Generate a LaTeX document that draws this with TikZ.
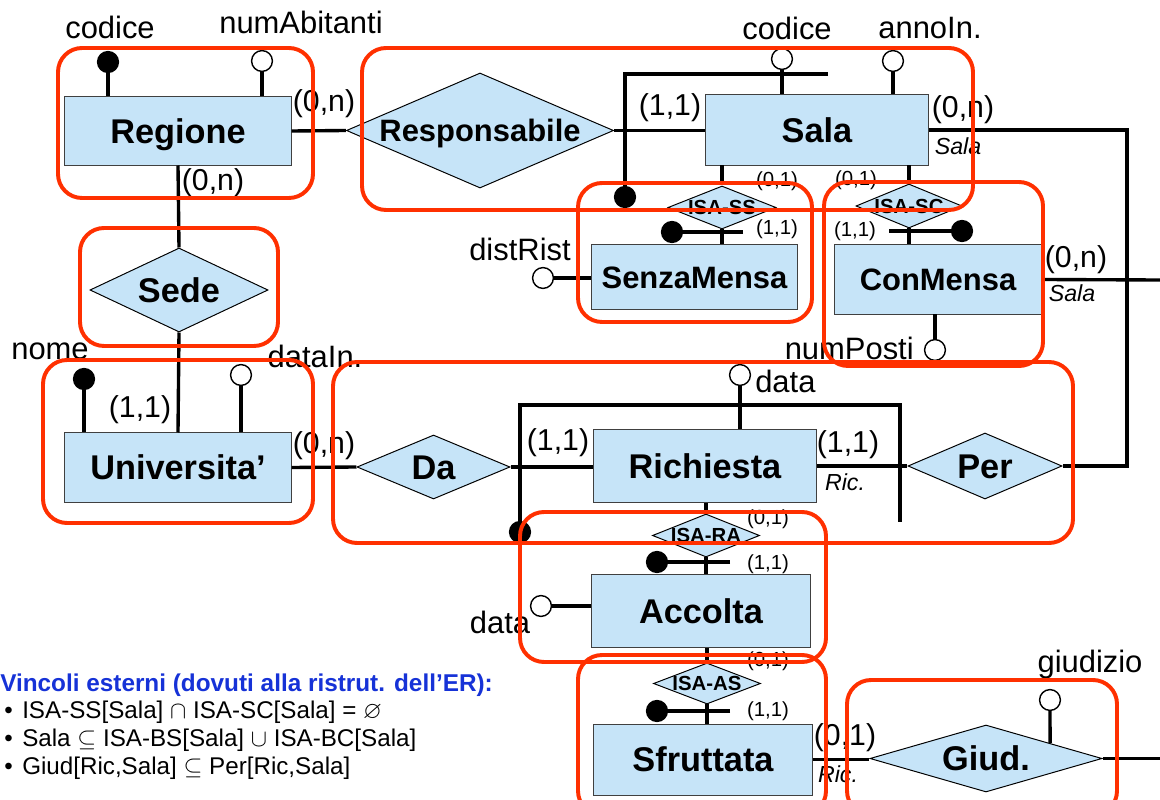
\documentclass[tikz,border=0pt]{standalone}
\usepackage{amssymb}
\usepackage{fontspec}
\setmainfont{Liberation Sans}
\usepackage{tikz}
\usetikzlibrary{shapes.geometric, positioning, calc}

\definecolor{erfill}{RGB}{198,228,248}
\definecolor{hlred}{RGB}{255,48,0}
\definecolor{noteblue}{RGB}{22,50,215}

\begin{document}
\begin{tikzpicture}[
  x=0.025cm, y=-0.025cm,
  ent/.style={rectangle, draw=black!75, line width=0.7pt, fill=erfill, inner sep=0pt, font=\fontsize{24.4}{28}\selectfont\bfseries, text height=17.5pt, text depth=0pt},
  entsm/.style={ent, font=\fontsize{22}{26}\selectfont\bfseries, text height=15.8pt},
  rel/.style={diamond, draw=black, line width=0.7pt, fill=erfill, inner sep=0pt},
  relname/.style={inner sep=0pt, font=\fontsize{24.4}{28}\selectfont\bfseries, text height=17.5pt, text depth=0pt},
  isaname/.style={inner sep=0pt, font=\fontsize{14.5}{17}\selectfont\bfseries, text height=10.4pt, text depth=0pt},
  attr/.style={circle, draw=black, line width=1pt, fill=white, minimum size=0.52cm, inner sep=0pt},
  keyattr/.style={attr, fill=black},
  lbl/.style={inner sep=0pt, font=\fontsize{22}{26}\selectfont},
  card/.style={inner sep=0pt, font=\fontsize{21.5}{25}\selectfont},
  smallcard/.style={inner sep=0pt, font=\fontsize{14.5}{17}\selectfont},
  role/.style={inner sep=0pt, font=\fontsize{16.5}{19}\selectfont\itshape},
  link/.style={line width=2.4pt},
  group/.style={draw=hlred, line width=2.8pt, rounded corners=0.6cm},
  notehead/.style={inner sep=0pt, anchor=west, text=noteblue, font=\fontsize{17.3}{20}\selectfont\bfseries},
  noteitem/.style={inner sep=0pt, anchor=west, font=\fontsize{17.2}{20}\selectfont}
]
\useasboundingbox (0,0) rectangle (1160,800);

% entities
\node[ent, minimum width=5.65cm, minimum height=1.7cm] (regione) at (178,131) {Regione};
\node[ent, minimum width=5.55cm, minimum height=1.75cm] (sala) at (817,130) {Sala};
\node[entsm, minimum width=5.125cm, minimum height=1.6cm] (senza) at (694.5,277) {SenzaMensa};
\node[entsm, minimum width=5.15cm, minimum height=1.725cm] (conm) at (938,279.5) {ConMensa};
\node[ent, minimum width=5.65cm, minimum height=1.725cm] (univ) at (178,467.5) {Universita'};
\node[ent, minimum width=5.575cm, minimum height=1.8cm] (ric) at (705,466) {Richiesta};
\node[ent, minimum width=5.45cm, minimum height=1.8cm] (accolta) at (701,611) {Accolta};
\node[ent, minimum width=5.45cm, minimum height=1.775cm] (sfrut) at (703,759.5) {Sfruttata};

% relationships
\node[rel, minimum width=6.675cm, minimum height=2.875cm, label={[relname, font=\fontsize{22}{26}\selectfont\bfseries, text height=15.8pt]center:Responsabile}] (resp) at (480,130.5) {};
\node[rel, minimum width=4.45cm, minimum height=2.1cm, label={[relname]center:Sede}] (sede) at (179,290) {};
\node[rel, minimum width=3.825cm, minimum height=1.6cm, label={[relname]center:Da}] (da) at (433.5,467) {};
\node[rel, minimum width=3.85cm, minimum height=1.65cm, label={[relname]center:Per}] (per) at (985,466) {};
\node[rel, minimum width=5.8cm, minimum height=1.675cm, label={[relname]center:Giud.}] (giud) at (986,758.5) {};

% isa links
\node[rel, minimum width=2.7cm, minimum height=1.075cm, label={[isaname]center:ISA-SS}] (isass) at (722,207.5) {};
\node[rel, minimum width=2.65cm, minimum height=1.1cm, label={[isaname]center:ISA-SC}] (isasc) at (909,206) {};
\node[rel, minimum width=2.675cm, minimum height=1.075cm, label={[isaname]center:ISA-RA}] (isara) at (706,535.5) {};
\node[rel, minimum width=2.675cm, minimum height=1.025cm, label={[isaname]center:ISA-AS}] (isaas) at (707,683.5) {};

% attributes
\node[keyattr] (regCod) at (108,62) {};
\node[attr] (regAb) at (262,61) {};
\node[attr] (salaCod) at (782,59) {};
\node[attr] (salaAnno) at (893,61) {};
\node[keyattr] (salaId) at (625,197) {};
\node[attr] (distR) at (543,278) {};
\node[attr] (numP) at (935,350) {};
\node[keyattr] (uniNome) at (84,379) {};
\node[attr] (uniData) at (241,375) {};
\node[attr] (ricData) at (740,375) {};
\node[keyattr] (ricId) at (520,532) {};
\node[attr] (accData) at (541,606) {};
\node[attr] (giudAttr) at (1050,700) {};
\node[keyattr] (ssId) at (672,232) {};
\node[keyattr] (scId) at (962,231) {};
\node[keyattr] (raId) at (657,562) {};
\node[keyattr] (asId) at (657,711) {};

\coordinate (salaBar) at (828,74);
\coordinate (ssBar) at (743,232);
\coordinate (scBar) at (889,231);
\coordinate (raBar) at (730,562);
\coordinate (asBar) at (730,711);
\coordinate (ricTop) at (900,405);
\coordinate (ricEnd) at (900,522);
\coordinate (loopCorner) at (1127,466);
\coordinate (cmEnd) at (1160,280);
\coordinate (giudEnd) at (1160,758.5);

% attribute labels
\node[lbl] (regCodL) at (110,27) {codice};
\node[lbl] (regAbL) at (301,22) {numAbitanti};
\node[lbl] (salaCodL) at (787,28) {codice};
\node[lbl] (salaAnnoL) at (930,28) {annoIn.};
\node[lbl] (distRL) at (520,249) {distRist};
\node[lbl, anchor=east] (numPL) at (914,348) {numPosti};
\node[lbl] (uniNomeL) at (50,351) {nome};
\node[lbl] (uniDataL) at (315,356) {dataIn.};
\node[lbl, anchor=west] (ricDataL) at (755,381) {data};
\node[lbl] (accDataL) at (500,622) {data};
\node[lbl] (giudAttrL) at (1090,665) {giudizio};

% links
\draw[link] (regCod) -- (regCod |- regione.north);
\draw[link] (regAb) -- (regAb |- regione.north);
\draw[link] (salaCod) -- (salaCod |- sala.north);
\draw[link] (salaAnno) -- (salaAnno |- sala.north);
\draw[link] (salaBar) -| (salaId);
\draw[link] (distR) -- (distR -| senza.west);
\draw[link] (numP) -- (numP |- conm.south);
\draw[link] (uniNome) -- (uniNome |- univ.north);
\draw[link] (uniData) -- (uniData |- univ.north);
\draw[link] (ricData) -- (ricData |- ric.north);
\draw[link] (ricId) |- (ricTop) -- (ricEnd);
\draw[link] (accData) -- (accData -| accolta.west);
\draw[link] (giudAttr) -- ($(giud.north)!0.55!(giud.east)$);

\draw[link] (regione.east) -- (resp.west);
\draw[link] (resp.east) -- (resp.east -| sala.west);
\draw[link] (sala.east) -| (loopCorner) -- (per.east);
\draw[link] (regione.south) -- (sede.north);
\draw[link] (sede.south) -- (univ.north);
\draw[link] (univ.east) -- (da.west);
\draw[link] (da.east) -- (da.east -| ric.west);
\draw[link] (ric.east) -- (ric.east -| per.west);
\draw[link] (conm.east) -- (cmEnd);
\draw[link] (sfrut.east) -- (sfrut.east -| giud.west);
\draw[link] (giud.east) -- (giudEnd);

\draw[link] (isass.north) -- (isass.north |- sala.south);
\draw[link] (isass.south) -- (isass.south |- senza.north);
\draw[link] (ssBar) -- (ssId);
\draw[link] (isasc.north) -- (isasc.north |- sala.south);
\draw[link] (isasc.south) -- (isasc.south |- conm.north);
\draw[link] (scBar) -- (scId);
\draw[link] (isara.north) -- (isara.north |- ric.south);
\draw[link] (isara.south) -- (isara.south |- accolta.north);
\draw[link] (raBar) -- (raId);
\draw[link] (isaas.north) -- (isaas.north |- accolta.south);
\draw[link] (isaas.south) -- (isaas.south |- sfrut.north);
\draw[link] (asBar) -- (asId);

% cardinalities
\node[card] (c1) at (324,104) {(0,n)};
\node[card] (c2) at (213,183) {(0,n)};
\node[card] (c3) at (670,108) {(1,1)};
\node[card] (c4) at (963,110) {(0,n)};
\node[role] (r1) at (958,146) {Sala};
\node[smallcard] (c5) at (777,181) {(0,1)};
\node[smallcard] (c6) at (777,229) {(1,1)};
\node[smallcard] (c7) at (856,180) {(0,1)};
\node[smallcard] (c8) at (855,231) {(1,1)};
\node[card] (c9) at (1076,260) {(0,n)};
\node[role] (r2) at (1072,293) {Sala};
\node[card] (c10) at (140,410) {(1,1)};
\node[card] (c11) at (324,446) {(0,n)};
\node[card] (c12) at (558,443) {(1,1)};
\node[card] (c13) at (848,445) {(1,1)};
\node[role] (r3) at (845,482) {Ric.};
\node[smallcard] (c14) at (768,519) {(0,1)};
\node[smallcard] (c15) at (768,564) {(1,1)};
\node[smallcard] (c16) at (768,661) {(0,1)};
\node[smallcard] (c17) at (768,711) {(1,1)};
\node[card] (c18) at (845,738) {(0,1)};
\node[role] (r4) at (838,774) {Ric.};

% external constraints
\node[notehead] (vinc) at (0,685) {Vincoli esterni (dovuti alla ristrut. dell'ER):};
\node[noteitem] (v1) at (4,712) {\makebox[0.45cm][l]{\textbullet}ISA-SS[Sala] $\cap$ ISA-SC[Sala] = $\varnothing$};
\node[noteitem] (v2) at (4,740) {\makebox[0.45cm][l]{\textbullet}Sala $\subseteq$ ISA-BS[Sala] $\cup$ ISA-BC[Sala]};
\node[noteitem] (v3) at (4,768) {\makebox[0.45cm][l]{\textbullet}Giud[Ric,Sala] $\subseteq$ Per[Ric,Sala]};

% highlighted groups
\draw[group] (58,48) rectangle (313,198);
\draw[group] (362,48) rectangle (973,210);
\draw[group] (80,228) rectangle (278,346);
\draw[group] (578,183) rectangle (812,322);
\draw[group] (824,182) rectangle (1043,366);
\draw[group] (43,360) rectangle (313,523);
\draw[group] (333,362) rectangle (1073,543);
\draw[group] (520,512) rectangle (826,662);
\draw[group] (578,655) rectangle (826,815);
\draw[group] (847,680) rectangle (1117,815);
\end{tikzpicture}
\end{document}
